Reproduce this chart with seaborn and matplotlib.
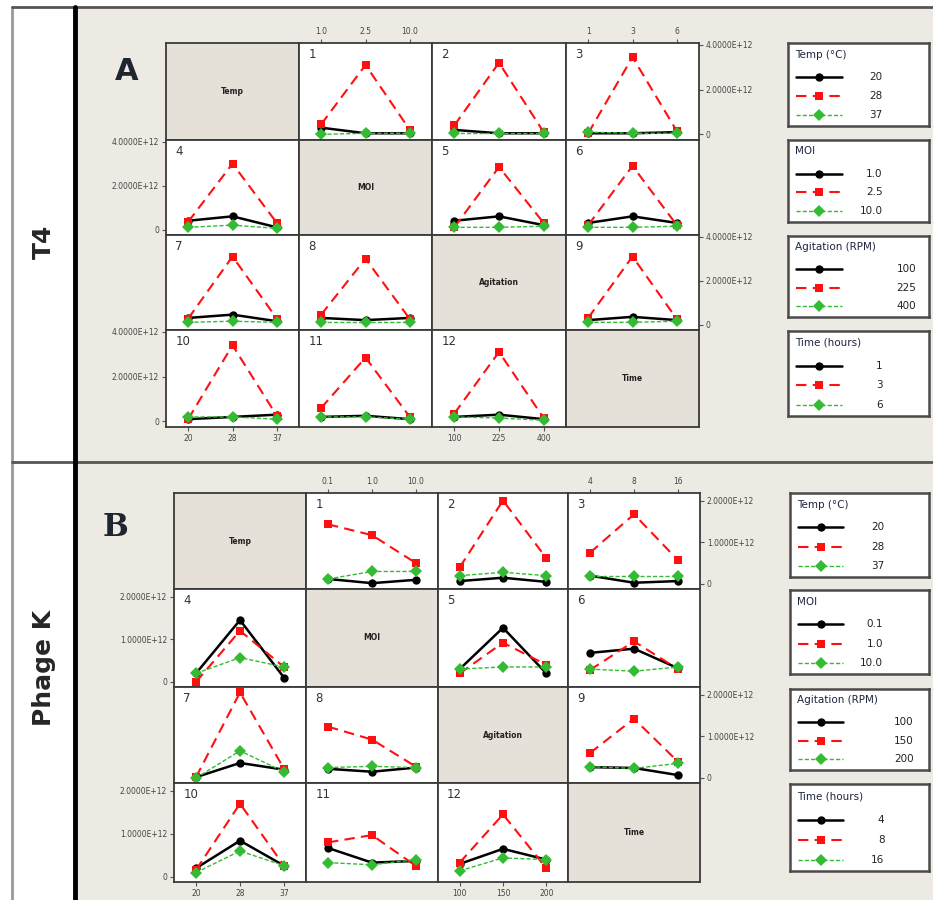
import pandas as pd
import matplotlib.pyplot as plt
import seaborn as sns
from matplotlib.lines import Line2D
from matplotlib.patches import Rectangle

factors = ["Temp", "MOI", "Agitation", "Time"]
legend_titles = ["Temp (°C)", "MOI", "Agitation (RPM)", "Time (hours)"]

t4_levels = [["20", "28", "37"], ["1.0", "2.5", "10.0"], ["100", "225", "400"], ["1", "3", "6"]]
phk_levels = [["20", "28", "37"], ["0.1", "1.0", "10.0"], ["100", "150", "200"], ["4", "8", "16"]]

# mean titre in units of 1E+12; each cell: [level1, level2, level3] of the row factor
t4_1 = [[0.30, 0.05, 0.05], [0.45, 3.10, 0.20], [0.00, 0.05, 0.05]]
t4_2 = [[0.20, 0.05, 0.05], [0.40, 3.20, 0.10], [0.05, 0.05, 0.05]]
t4_3 = [[0.05, 0.05, 0.10], [0.05, 3.45, 0.15], [0.10, 0.05, 0.05]]
t4_4 = [[0.40, 0.60, 0.10], [0.35, 3.00, 0.30], [0.10, 0.20, 0.05]]
t4_5 = [[0.40, 0.60, 0.20], [0.10, 2.85, 0.30], [0.10, 0.10, 0.15]]
t4_6 = [[0.30, 0.60, 0.30], [0.20, 2.90, 0.20], [0.10, 0.10, 0.15]]
t4_7 = [[0.30, 0.45, 0.15], [0.27, 3.10, 0.27], [0.10, 0.15, 0.10]]
t4_8 = [[0.30, 0.20, 0.30], [0.45, 3.00, 0.25], [0.10, 0.10, 0.10]]
t4_9 = [[0.20, 0.35, 0.20], [0.30, 3.10, 0.25], [0.10, 0.10, 0.15]]
t4_10 = [[0.10, 0.20, 0.30], [0.10, 3.40, 0.25], [0.20, 0.20, 0.10]]
t4_11 = [[0.20, 0.25, 0.10], [0.60, 2.85, 0.20], [0.20, 0.20, 0.10]]
t4_12 = [[0.20, 0.30, 0.10], [0.35, 3.10, 0.15], [0.20, 0.15, 0.05]]

phk_1 = [[0.12, 0.02, 0.10], [1.43, 1.17, 0.50], [0.12, 0.30, 0.30]]
phk_2 = [[0.07, 0.15, 0.05], [0.40, 2.00, 0.62], [0.20, 0.28, 0.20]]
phk_3 = [[0.20, 0.03, 0.07], [0.75, 1.67, 0.57], [0.20, 0.20, 0.20]]
phk_4 = [[0.20, 1.45, 0.10], [0.00, 1.20, 0.35], [0.20, 0.57, 0.35]]
phk_5 = [[0.30, 1.27, 0.20], [0.20, 0.92, 0.40], [0.30, 0.35, 0.35]]
phk_6 = [[0.68, 0.78, 0.32], [0.28, 0.95, 0.30], [0.30, 0.25, 0.35]]
phk_7 = [[0.02, 0.36, 0.20], [0.02, 2.05, 0.22], [0.00, 0.65, 0.15]]
phk_8 = [[0.22, 0.15, 0.25], [1.23, 0.92, 0.27], [0.25, 0.28, 0.25]]
phk_9 = [[0.26, 0.24, 0.07], [0.60, 1.42, 0.39], [0.27, 0.23, 0.35]]
phk_10 = [[0.20, 0.84, 0.26], [0.16, 1.70, 0.26], [0.10, 0.60, 0.26]]
phk_11 = [[0.67, 0.33, 0.37], [0.80, 0.97, 0.25], [0.33, 0.28, 0.40]]
phk_12 = [[0.30, 0.65, 0.40], [0.33, 1.45, 0.20], [0.14, 0.44, 0.40]]

t4_cells = [t4_1, t4_2, t4_3, t4_4, t4_5, t4_6, t4_7, t4_8, t4_9, t4_10, t4_11, t4_12]
phk_cells = [phk_1, phk_2, phk_3, phk_4, phk_5, phk_6, phk_7, phk_8, phk_9, phk_10, phk_11, phk_12]

colors = ["#000000", "#ff1010", "#33bb33"]
marker_list = ["o", "s", "D"]
dash_list = ["", (5, 3), (3, 1.5)]
width_list = [1.8, 1.5, 1.0]

page_bg = "#edeae3"
diag_bg = "#e5e1d9"

sns.set_style("white")
plt.rcParams["font.family"] = ["DejaVu Sans"]

W, H = 933, 900
fig = plt.figure(figsize=(W / 100, H / 100), dpi=100)
fig.patch.set_facecolor("white")


def fx(x):
    return x / W


def fy(y):
    return 1 - y / H


fig.add_artist(Rectangle((fx(77), 0), 1, fy(8), transform=fig.transFigure,
                         facecolor=page_bg, edgecolor="none", zorder=-5))
fig.add_artist(Line2D([fx(12), fx(12)], [0, fy(7)], transform=fig.transFigure, color="#999999", lw=2))
fig.add_artist(Line2D([fx(12), 1], [fy(7), fy(7)], transform=fig.transFigure, color="#555555", lw=2))
fig.add_artist(Line2D([fx(12), 1], [fy(462), fy(462)], transform=fig.transFigure, color="#555555", lw=2))
fig.add_artist(Line2D([fx(75), fx(75)], [0, fy(7)], transform=fig.transFigure, color="#000000", lw=3.5))

fig.text(fx(44), fy(242), "T4", rotation=90, ha="center", va="center", fontsize=18, fontweight="bold")
fig.text(fx(44), fy(668), "Phage K", rotation=90, ha="center", va="center", fontsize=18, fontweight="bold")


def draw_block(cells, levels, xedges, yedges, ylim, ytick_vals, ytick_labels, leg_boxes, leg_label_x):
    k = 0
    for r in range(4):
        for c in range(4):
            x0, x1 = xedges[c], xedges[c + 1]
            y0, y1 = yedges[r], yedges[r + 1]
            ax = fig.add_axes([fx(x0), fy(y1), fx(x1 - x0), (y1 - y0) / H])
            ax.set_xlim(-0.5, 2.5)
            ax.set_ylim(*ylim)
            ax.set_xticks([])
            ax.set_yticks([])
            for s in ax.spines.values():
                s.set_visible(True)
                s.set_color("#3a3a3a")
                s.set_linewidth(1.3)
            if r == c:
                ax.set_facecolor(diag_bg)
                ax.text(0.5, 0.5, factors[r], transform=ax.transAxes, ha="center", va="center",
                        fontsize=5.5, fontweight="bold", color="#222222")
                continue
            ax.set_facecolor("white")
            cell = cells[k]
            k += 1
            rows = []
            for li, series in enumerate(cell):
                for xi, v in enumerate(series):
                    rows.append({"x": xi, "value": v, "level": levels[r][li]})
            df = pd.DataFrame(rows)
            lv = levels[r]
            sns.lineplot(data=df, x="x", y="value", hue="level", style="level", size="level",
                         hue_order=lv, style_order=lv, size_order=lv,
                         palette=dict(zip(lv, colors)), markers=dict(zip(lv, marker_list)),
                         dashes=dict(zip(lv, dash_list)), sizes=dict(zip(lv, width_list)),
                         markersize=6, markeredgewidth=0, legend=False, ax=ax)
            ax.set_xlabel("")
            ax.set_ylabel("")
            ax.set_xticks([])
            ax.set_yticks([])
            ax.set_xlim(-0.5, 2.5)
            ax.set_ylim(*ylim)
            ax.text(0.07, 0.95, str(k), transform=ax.transAxes, ha="left", va="top",
                    fontsize=8.5, color="#333333")
            ax.tick_params(labelsize=5.5, length=3, width=0.8, color="#555555", labelcolor="#444444", pad=2)
            if r == 0 and c in (1, 3):
                ax.xaxis.set_ticks_position("top")
                ax.set_xticks([0, 1, 2])
                ax.set_xticklabels(levels[c])
            if r == 3 and c in (0, 2):
                ax.xaxis.set_ticks_position("bottom")
                ax.set_xticks([0, 1, 2])
                ax.set_xticklabels(levels[c])
            if c == 3 and r in (0, 2):
                ax.yaxis.set_ticks_position("right")
                ax.set_yticks(ytick_vals)
                ax.set_yticklabels(ytick_labels)
            if c == 0 and r in (1, 3):
                ax.yaxis.set_ticks_position("left")
                ax.set_yticks(ytick_vals)
                ax.set_yticklabels(ytick_labels)

    # legend boxes, one per factor
    for i, (lx0, ly0, lx1, ly1) in enumerate(leg_boxes):
        lax = fig.add_axes([fx(lx0), fy(ly1), fx(lx1 - lx0), (ly1 - ly0) / H])
        lax.set_facecolor("white")
        lax.set_xlim(0, 1)
        lax.set_ylim(0, 1)
        lax.set_xticks([])
        lax.set_yticks([])
        for s in lax.spines.values():
            s.set_visible(True)
            s.set_color("#4a4a4a")
            s.set_linewidth(1.8)
        lax.text(0.05, 0.86, legend_titles[i], ha="left", va="center", fontsize=7.5, color="#1f2440")
        for li in range(3):
            yy = [0.59, 0.36, 0.13][li]
            lax.add_line(Line2D([0.06, 0.38], [yy, yy], color=colors[li], lw=width_list[li],
                                dashes=dash_list[li] if dash_list[li] else (None, None)))
            lax.plot([0.22], [yy], marker=marker_list[li], color=colors[li], markersize=6, mew=0)
            lax.text(leg_label_x[i], yy, levels[i][li], ha="right", va="center", fontsize=7.5, color="#222222")


draw_block(t4_cells, t4_levels,
           [166, 299, 432, 566, 699], [43, 140, 235, 330, 427],
           (-0.25, 4.08), [0, 2, 4], ["0", "2.0000E+12", "4.0000E+12"],
           [(788, 43, 929, 126), (788, 140, 929, 222), (788, 236, 929, 317), (788, 331, 929, 416)],
           [0.67, 0.67, 0.91, 0.67])

draw_block(phk_cells, phk_levels,
           [174, 306, 438, 568, 700], [493, 589, 687, 783, 882],
           (-0.12, 2.18), [0, 1, 2], ["0", "1.0000E+12", "2.0000E+12"],
           [(790, 493, 929, 577), (790, 590, 929, 674), (790, 689, 929, 770), (790, 784, 929, 871)],
           [0.68, 0.67, 0.89, 0.68])

fig.text(fx(127), fy(72), "A", ha="center", va="center", fontsize=22, fontweight="bold", color="#1e2530")
fig.text(fx(115), fy(528), "B", ha="center", va="center", fontsize=22, fontweight="bold",
         family="DejaVu Serif", color="#1e2530")

fig.savefig("out.png", dpi=100)
